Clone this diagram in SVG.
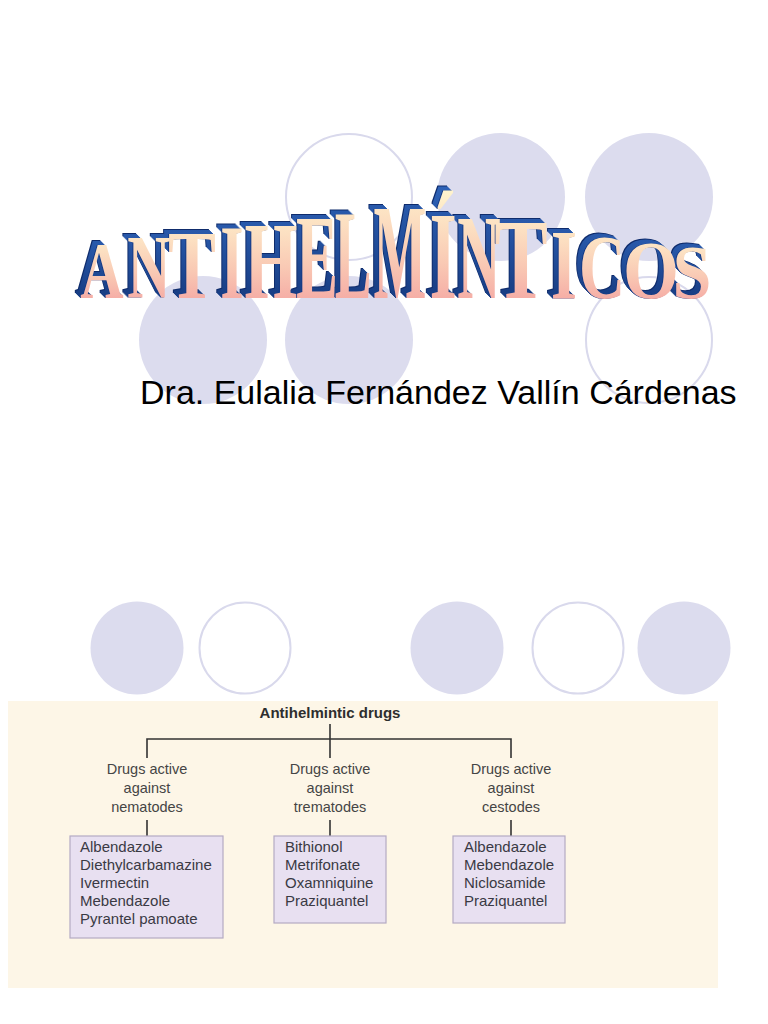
<svg xmlns="http://www.w3.org/2000/svg" xmlns:xlink="http://www.w3.org/1999/xlink" width="768" height="1024" viewBox="0 0 768 1024">
<style>
.cf{fill:#dcdcee;stroke:none}
.co{fill:#ffffff;stroke:#d9d9ec;stroke-width:2}
.sub{font-family:"Liberation Sans",Arial,sans-serif;font-size:34px;fill:#000}
.root{font-family:"Liberation Sans",Arial,sans-serif;font-size:15px;font-weight:bold;fill:#2e2e2e}
.lbl{font-family:"Liberation Sans",Arial,sans-serif;font-size:14.5px;fill:#454545}
.itm{font-family:"Liberation Sans",Arial,sans-serif;font-size:15px;fill:#3a3a44}
.box{fill:#e8e0f1;stroke:#b4aac4;stroke-width:1.2}
.ln{stroke:#333;stroke-width:1.6;fill:none}
</style>
<defs>
<linearGradient id="face" x1="0" y1="0" x2="0" y2="1">
<stop offset="0" stop-color="#fff6cf"/>
<stop offset="0.55" stop-color="#f9c9b4"/>
<stop offset="1" stop-color="#f39a9c"/>
</linearGradient>
<linearGradient id="side" x1="0" y1="0" x2="0" y2="1">
<stop offset="0" stop-color="#2f63b8"/>
<stop offset="1" stop-color="#123477"/>
</linearGradient>
<g id="word" font-family="'Liberation Serif','Times New Roman',serif" font-weight="bold" font-size="100" text-anchor="middle">
<text transform="translate(102,298) scale(0.60,0.80)">A</text>
<text transform="translate(149,298) scale(0.60,0.91)">N</text>
<text transform="translate(192,298) scale(0.72,0.98)">T</text>
<text transform="translate(232,298) scale(0.60,1.06)">I</text>
<text transform="translate(271,298) scale(0.68,1.10)">H</text>
<text transform="translate(317,298) scale(0.63,1.21)">E</text>
<text transform="translate(353,298) scale(0.55,1.28)">L</text>
<text transform="translate(400,298) scale(0.56,1.36)">M</text>
<text transform="translate(443,298) scale(0.70,1.25)">Í</text>
<text transform="translate(479,298) scale(0.60,1.21)">N</text>
<text transform="translate(521,298) scale(0.80,1.15)">T</text>
<text transform="translate(564,298) scale(0.68,1.00)">I</text>
<text transform="translate(602,298) scale(0.64,0.91)">C</text>
<text transform="translate(651,298) scale(0.72,0.83)">O</text>
<text transform="translate(692,298) scale(0.70,0.76)">S</text>
</g>
</defs>
<rect width="768" height="1024" fill="#ffffff"/>
<g id="bg-circles">
<circle class="co" cx="349" cy="197" r="63"/>
<circle class="cf" cx="501" cy="197" r="64"/>
<circle class="cf" cx="649" cy="197" r="64"/>
<circle class="cf" cx="203" cy="340" r="64"/>
<circle class="cf" cx="349" cy="340" r="64"/>
<circle class="co" cx="649" cy="340" r="63"/>
<circle class="cf" cx="137" cy="648" r="46.5"/>
<circle class="co" cx="245" cy="648" r="45.5"/>
<circle class="cf" cx="457" cy="648" r="46.5"/>
<circle class="co" cx="578" cy="648" r="45.5"/>
<circle class="cf" cx="684" cy="648" r="46.5"/>
</g>
<g id="title">
<use xlink:href="#word" x="-6" y="-5" fill="#0f2c6c"/>
<use xlink:href="#word" x="-5" y="-4" fill="url(#side)"/>
<use xlink:href="#word" x="-4" y="-3" fill="url(#side)"/>
<use xlink:href="#word" x="-3" y="-2" fill="url(#side)"/>
<use xlink:href="#word" x="-2" y="-1" fill="url(#side)"/>
<use xlink:href="#word" x="-1" y="0" fill="#163a84"/>
<use xlink:href="#word" x="0" y="0" fill="url(#face)"/>
</g>
<text id="subtitle" class="sub" x="140" y="404">Dra. Eulalia Fernández Vallín Cárdenas</text>
<g id="chart">
<rect x="8" y="701" width="710" height="287" fill="#fdf6e7"/>
<g id="connectors">
<path class="ln" d="M330,724 V758"/>
<path class="ln" d="M147,758 V739 H511 V758"/>
<path class="ln" d="M147,820 V836"/>
<path class="ln" d="M330,820 V836"/>
<path class="ln" d="M511,820 V836"/>
</g>
<g id="root"><text class="root" x="330" y="718" text-anchor="middle">Antihelmintic drugs</text></g>
<g id="nematodes" class="lbl" text-anchor="middle">
<text class="lbl" x="147" y="774">Drugs active</text>
<text class="lbl" x="147" y="793">against</text>
<text class="lbl" x="147" y="812">nematodes</text>
</g>
<g id="trematodes" text-anchor="middle">
<text class="lbl" x="330" y="774">Drugs active</text>
<text class="lbl" x="330" y="793">against</text>
<text class="lbl" x="330" y="812">trematodes</text>
</g>
<g id="cestodes" text-anchor="middle">
<text class="lbl" x="511" y="774">Drugs active</text>
<text class="lbl" x="511" y="793">against</text>
<text class="lbl" x="511" y="812">cestodes</text>
</g>
<g id="box-nematodes">
<rect class="box" x="70" y="836" width="153" height="102"/>
<text class="itm" x="80" y="852">Albendazole</text>
<text class="itm" x="80" y="870">Diethylcarbamazine</text>
<text class="itm" x="80" y="888">Ivermectin</text>
<text class="itm" x="80" y="906">Mebendazole</text>
<text class="itm" x="80" y="924">Pyrantel pamoate</text>
</g>
<g id="box-trematodes">
<rect class="box" x="274" y="836" width="112" height="87"/>
<text class="itm" x="285" y="852">Bithionol</text>
<text class="itm" x="285" y="870">Metrifonate</text>
<text class="itm" x="285" y="888">Oxamniquine</text>
<text class="itm" x="285" y="906">Praziquantel</text>
</g>
<g id="box-cestodes">
<rect class="box" x="453" y="836" width="112" height="87"/>
<text class="itm" x="464" y="852">Albendazole</text>
<text class="itm" x="464" y="870">Mebendazole</text>
<text class="itm" x="464" y="888">Niclosamide</text>
<text class="itm" x="464" y="906">Praziquantel</text>
</g>
</g>
</svg>
